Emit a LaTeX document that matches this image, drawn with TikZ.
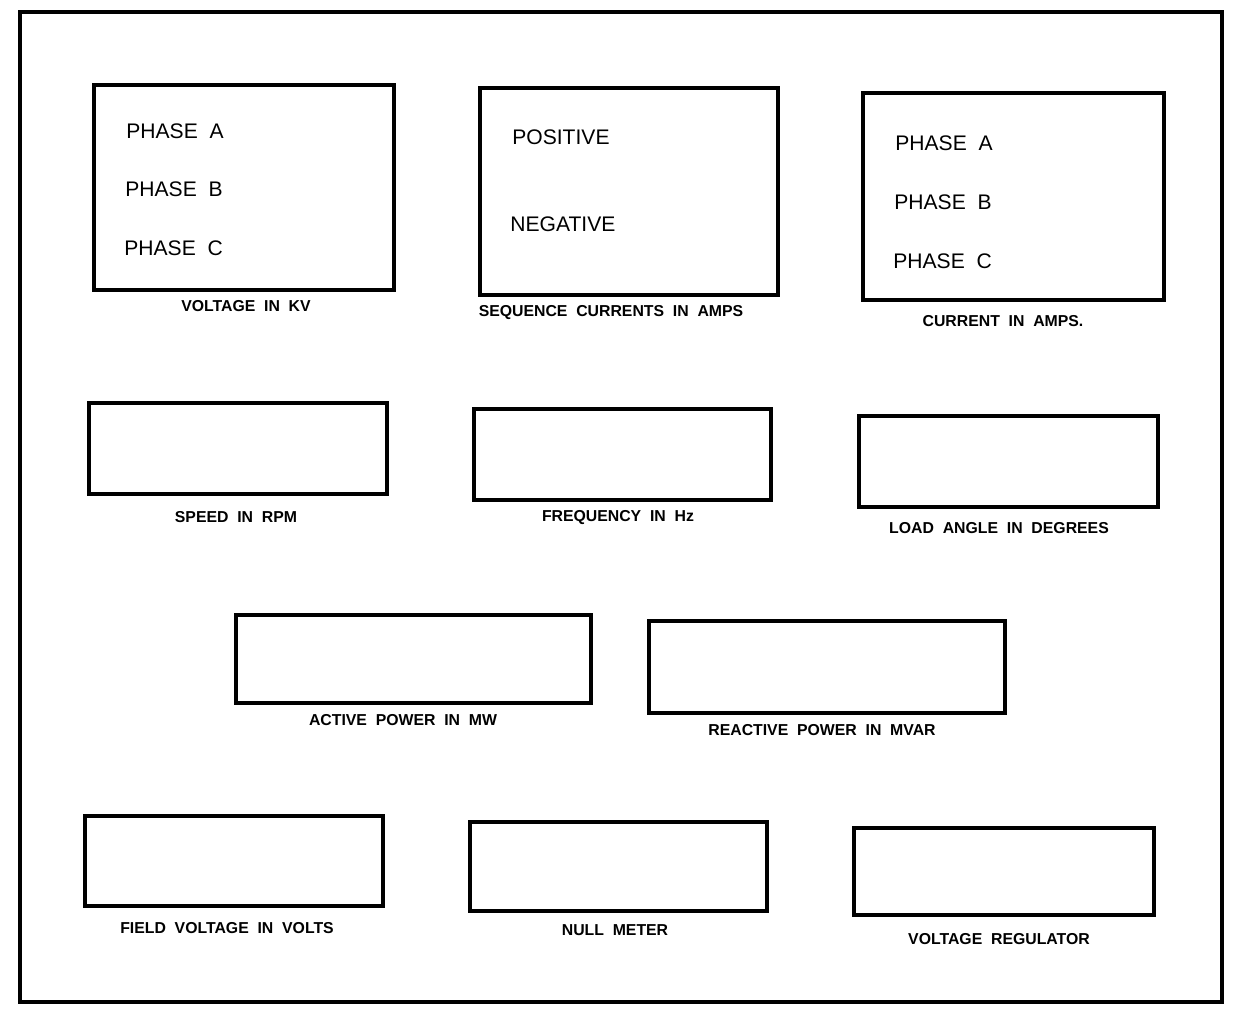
\documentclass[tikz,border=0pt]{standalone}
\usepackage{fontspec}
\setmainfont{Liberation Sans}
\usetikzlibrary{fit}
\begin{document}
\begin{tikzpicture}[x={(0.02cm,0)},y={(0,-0.02cm)},
  box/.style={draw,line width=2pt,inner sep=0pt},
  frame/.style={draw,line width=2pt,inner sep=0pt},
  intext/.style={anchor=west,inner sep=0pt,font=\fontsize{12}{14}\selectfont},
  lbl/.style={anchor=center,inner sep=0pt,font=\fontsize{9}{11}\selectfont\bfseries}]
\useasboundingbox (0,0) rectangle (1235,1017);
\node[frame,fit={(20,12) (1222,1002)}] (frame) {};
% row 1
\node[box,fit={(94,85) (394,290)}] (volt) {};
\node[intext] (va) at (126,131) {PHASE\ \ A};
\node[intext] (vb) at (125,189) {PHASE\ \ B};
\node[intext] (vc) at (124,248) {PHASE\ \ C};
\node[lbl] (voltl) at (246,306) {VOLTAGE\ \ IN\ \ KV};
\node[box,fit={(480,88) (778,295)}] (seq) {};
\node[intext] (pos) at (512,137) {POSITIVE};
\node[intext] (neg) at (510,224) {NEGATIVE};
\node[lbl] (seql) at (611,313) {SEQUENCE\ \ CURRENTS\ \ IN\ \ AMPS};
\node[box,fit={(863,93) (1164,300)}] (cur) {};
\node[intext] (ca) at (895,143) {PHASE\ \ A};
\node[intext] (cb) at (894,202) {PHASE\ \ B};
\node[intext] (cc) at (893,261) {PHASE\ \ C};
\node[lbl] (curl) at (1003,321) {CURRENT\ \ IN\ \ AMPS.};
% row 2
\node[box,fit={(89,403) (387,494)}] (speed) {};
\node[lbl] (speedl) at (236,517) {SPEED\ \ IN\ \ RPM};
\node[box,fit={(474,409) (771,500)}] (freq) {};
\node[lbl] (freql) at (618,518) {FREQUENCY\ \ IN\ \ Hz};
\node[box,fit={(859,416) (1158,507)}] (load) {};
\node[lbl] (loadl) at (999,528) {LOAD\ \ ANGLE\ \ IN\ \ DEGREES};
% row 3
\node[box,fit={(236,615) (591,703)}] (act) {};
\node[lbl] (actl) at (403,720) {ACTIVE\ \ POWER\ \ IN\ \ MW};
\node[box,fit={(649,621) (1005,713)}] (react) {};
\node[lbl] (reactl) at (822,730) {REACTIVE\ \ POWER\ \ IN\ \ MVAR};
% row 4
\node[box,fit={(85,816) (383,906)}] (field) {};
\node[lbl] (fieldl) at (227,928) {FIELD\ \ VOLTAGE\ \ IN\ \ VOLTS};
\node[box,fit={(470,822) (767,911)}] (null) {};
\node[lbl] (nulll) at (615,930) {NULL\ \ METER};
\node[box,fit={(854,828) (1154,915)}] (reg) {};
\node[lbl] (regl) at (999,939) {VOLTAGE\ \ REGULATOR};
\end{tikzpicture}
\end{document}
